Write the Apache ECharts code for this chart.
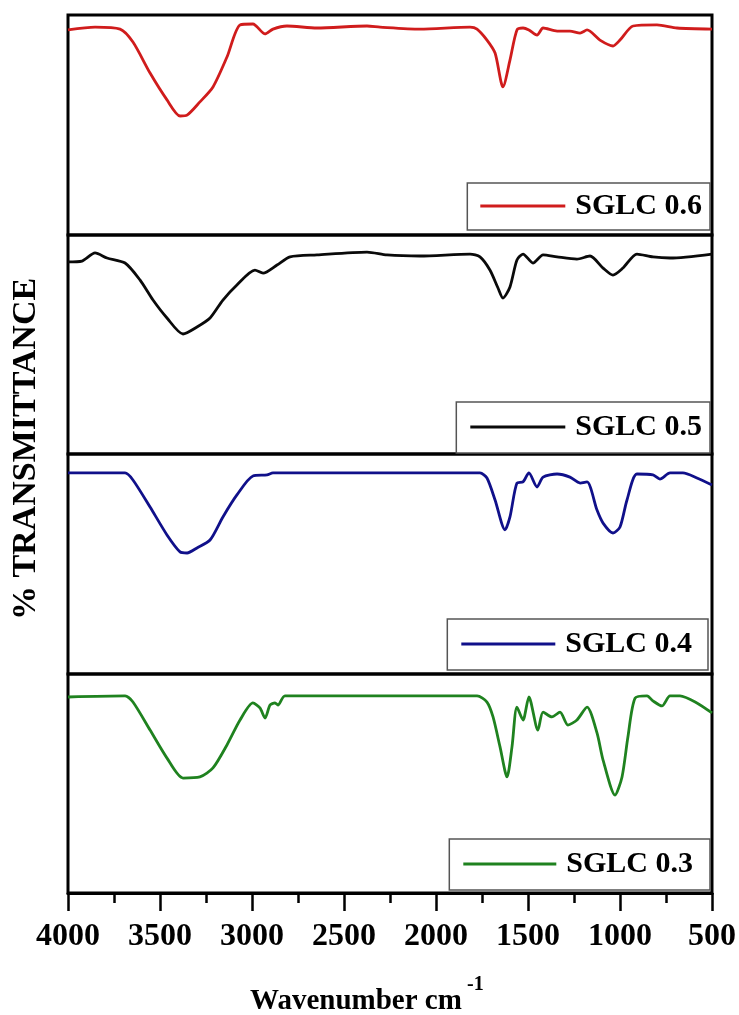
<!DOCTYPE html>
<html>
<head>
<meta charset="utf-8">
<script src="https://cdn.jsdelivr.net/npm/echarts@6/dist/echarts.min.js"></script>
<style>
  html, body { margin: 0; padding: 0; background: #fff; }
  #chart { width: 739px; height: 1015px; }
</style>
</head>
<body>
<div id="chart"></div>
<script>
// FTIR spectra, one stacked panel per sample (wavenumber in cm^-1, transmittance in %)
const seriesNames = ['SGLC 0.6', 'SGLC 0.5', 'SGLC 0.4', 'SGLC 0.3'];
const seriesColors = ['#d01c1c', '#0a0a0a', '#10108a', '#1f821f'];
const xTicks = [4000, 3500, 3000, 2500, 2000, 1500, 1000, 500];

const wn06 = [4000, 3853, 3717, 3647, 3554, 3462, 3391, 3353, 3283, 3212, 3136, 3065, 2995, 2929, 2886, 2810, 2647, 2375, 2304, 2087, 1815, 1777, 1723, 1679, 1636, 1598, 1560, 1527, 1495, 1451, 1418, 1342, 1272, 1217, 1179, 1109, 1038, 1000, 929, 799, 690, 500];
const t06 = [93.2, 94.5, 93.6, 87.7, 73.6, 61.4, 54.1, 54.5, 60.5, 67.3, 80.9, 95.5, 95.9, 91.4, 93.6, 95.0, 94.1, 95.0, 94.5, 93.6, 94.5, 93.6, 88.6, 82.7, 67.3, 79.5, 93.2, 94.1, 93.2, 90.9, 94.1, 92.7, 92.7, 91.8, 93.2, 88.6, 85.9, 88.6, 95.0, 95.5, 94.1, 93.6];

const wn05 = [4000, 3924, 3853, 3788, 3690, 3609, 3538, 3462, 3375, 3299, 3228, 3158, 3082, 2984, 2940, 2864, 2793, 2647, 2375, 2266, 2087, 1815, 1761, 1707, 1663, 1636, 1598, 1560, 1527, 1473, 1418, 1342, 1234, 1163, 1092, 1038, 984, 908, 821, 728, 500];
const t05 = [87.7, 88.1, 91.8, 89.5, 87.2, 79.5, 70.3, 62.1, 54.8, 58.0, 62.1, 70.3, 77.2, 84.0, 82.6, 86.3, 90.0, 90.9, 92.2, 90.9, 90.4, 91.3, 90.0, 84.0, 75.8, 71.2, 76.3, 88.6, 91.3, 87.2, 90.9, 90.0, 89.0, 90.4, 84.9, 81.7, 84.9, 91.3, 90.0, 89.5, 91.3];

const wn04 = [4000, 3690, 3647, 3554, 3462, 3391, 3353, 3299, 3228, 3158, 3082, 2995, 2918, 2886, 2375, 1761, 1723, 1679, 1625, 1598, 1560, 1527, 1495, 1451, 1418, 1342, 1272, 1217, 1179, 1125, 1092, 1038, 1000, 962, 908, 821, 783, 728, 658, 582, 500];
const t04 = [91.4, 91.4, 88.2, 75.9, 63.2, 55.5, 55.0, 57.3, 60.9, 71.4, 81.4, 90.0, 90.5, 91.4, 91.4, 91.4, 89.1, 79.1, 65.5, 71.4, 86.8, 87.3, 91.4, 85.0, 89.5, 90.9, 89.5, 86.8, 87.3, 74.5, 68.6, 64.1, 66.8, 79.1, 90.9, 90.5, 88.6, 91.4, 91.4, 89.1, 85.9];

const wn03 = [4000, 3690, 3647, 3554, 3462, 3375, 3283, 3212, 3136, 3065, 2995, 2957, 2929, 2902, 2875, 2859, 2821, 2375, 1777, 1723, 1690, 1652, 1614, 1587, 1560, 1527, 1495, 1446, 1418, 1370, 1326, 1283, 1234, 1179, 1125, 1092, 1027, 989, 957, 918, 853, 821, 772, 728, 674, 582, 500];
const t03 = [89.5, 90.0, 87.2, 74.4, 61.6, 52.5, 53.0, 57.1, 67.6, 79.0, 86.8, 84.5, 79.9, 85.8, 86.8, 85.8, 90.0, 90.0, 90.0, 87.2, 80.4, 66.7, 53.0, 66.7, 84.9, 79.0, 89.5, 74.4, 82.6, 80.4, 82.6, 76.7, 79.0, 84.9, 73.1, 60.7, 44.7, 53.0, 71.2, 89.0, 90.0, 87.7, 85.4, 90.0, 90.0, 86.8, 82.2];

const spectra = [[wn06, t06], [wn05, t05], [wn04, t04], [wn03, t03]];

const FONT = "'Liberation Serif', 'Times New Roman', serif";

// panel geometry (pixels)
const panels = [
  { top: 15, height: 220 },
  { top: 235, height: 219 },
  { top: 454, height: 220 },
  { top: 674, height: 219 }
];
// legend boxes: top, right, padding, sample line length
const legendBoxes = [
  { top: 183, right: 29, padding: [8, 8, 9, 13], itemWidth: 85 },
  { top: 402, right: 29, padding: [10, 8, 11, 14], itemWidth: 95 },
  { top: 619, right: 31, padding: [10, 16, 11, 14], itemWidth: 94 },
  { top: 839, right: 29, padding: [10, 17, 11, 14], itemWidth: 93 }
];

const last = panels.length - 1;

const option = {
  animation: false,
  backgroundColor: '#fff',
  grid: panels.map(p => ({
    left: 68, right: 27, top: p.top, height: p.height,
    show: true, borderColor: '#000', borderWidth: 3, backgroundColor: 'transparent'
  })),
  xAxis: panels.map((p, i) => ({
    type: 'value', gridIndex: i, inverse: true,
    min: xTicks[xTicks.length - 1], max: xTicks[0], interval: 500,
    show: i === last,
    axisLine: { show: true, onZero: false, lineStyle: { color: '#000', width: 3 } },
    axisTick: { show: true, inside: false, length: 18, lineStyle: { color: '#000', width: 2.5 } },
    minorTick: { show: true, splitNumber: 2, length: 10, lineStyle: { color: '#000', width: 2.5 } },
    splitLine: { show: false },
    axisLabel: {
      show: true, margin: 28, color: '#000',
      fontFamily: FONT, fontWeight: 'bold', fontSize: 32,
      formatter: v => String(v)
    }
  })),
  yAxis: panels.map((p, i) => ({
    type: 'value', gridIndex: i, min: 0, max: 100, show: false,
    splitLine: { show: false }
  })),
  legend: legendBoxes.map((b, i) => ({
    data: [seriesNames[i]],
    top: b.top, right: b.right, padding: b.padding,
    orient: 'horizontal',
    icon: 'rect', itemWidth: b.itemWidth, itemHeight: 3,
    borderColor: '#555', borderWidth: 1.5, backgroundColor: '#fff',
    selectedMode: false,
    textStyle: {
      fontFamily: FONT, fontWeight: 'bold', fontSize: 30, color: '#000',
      padding: [0, 0, 0, 5]
    }
  })),
  series: spectra.map((s, i) => ({
    name: seriesNames[i],
    type: 'line',
    xAxisIndex: i, yAxisIndex: i,
    data: s[0].map((w, k) => [w, s[1][k]]),
    showSymbol: false,
    symbol: 'none',
    smooth: 0.25,
    color: seriesColors[i],
    lineStyle: { color: seriesColors[i], width: 2.8 }
  })),
  graphic: [
    {
      type: 'text', x: 26, y: 449, rotation: Math.PI / 2,
      style: {
        text: '% TRANSMITTANCE', fill: '#000',
        font: 'bold 34px ' + FONT, align: 'center', verticalAlign: 'middle'
      }
    },
    {
      type: 'text', x: 250, y: 1002,
      style: {
        text: 'Wavenumber cm', fill: '#000',
        font: 'bold 29px ' + FONT, align: 'left', verticalAlign: 'middle'
      }
    },
    {
      type: 'text', x: 467, y: 985,
      style: {
        text: '-1', fill: '#000',
        font: 'bold 20px ' + FONT, align: 'left', verticalAlign: 'middle'
      }
    }
  ]
};

const chart = echarts.init(document.getElementById('chart'), null, { renderer: 'canvas' });
chart.setOption(option);
</script>
</body>
</html>
